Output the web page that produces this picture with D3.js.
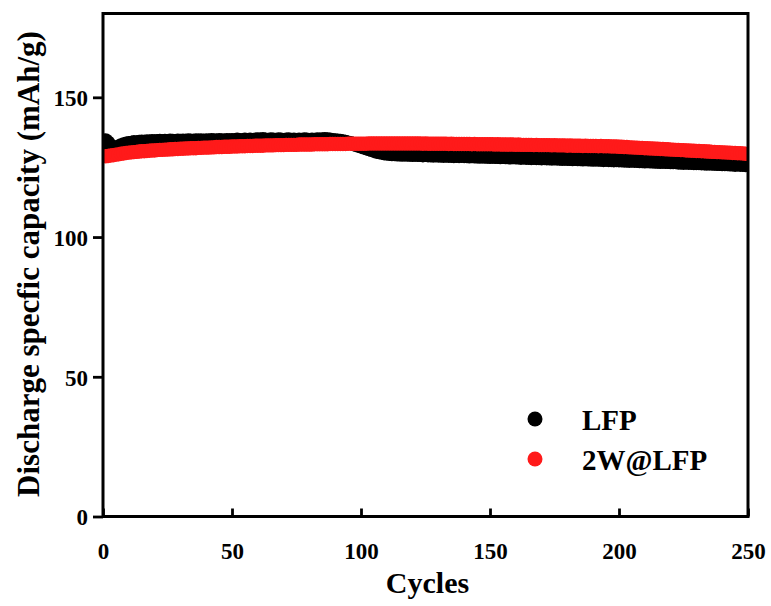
<!DOCTYPE html>
<html><head><meta charset="utf-8">
<script src="https://cdn.jsdelivr.net/npm/d3@7/dist/d3.min.js"></script>
<style>html,body{margin:0;padding:0;background:#fff;}svg{display:block;}</style>
</head><body>
<script>
const seriesNames = ["LFP", "2W@LFP"];
const seriesColors = ["#000000", "#ff1a1a"];
const xTicks = [0, 50, 100, 150, 200, 250];
const yTicks = [0, 50, 100, 150];
const xLabel = "Cycles";
const yLabel = "Discharge specfic capacity (mAh/g)";

const lfp = [
134.6,133.8,131.9,131.2,131.6,132.3,132.8,133.1,133.4,133.6,
133.7,133.9,133.8,134.0,134.1,134.0,134.2,134.1,134.3,134.2,
134.3,134.4,134.2,134.4,134.3,134.5,134.4,134.3,134.5,134.4,
134.5,134.4,134.6,134.5,134.4,134.6,134.5,134.6,134.4,134.6,
134.5,134.7,134.6,134.5,134.7,134.6,134.5,134.7,134.6,134.7,
134.6,134.8,134.7,134.6,134.8,134.7,134.8,134.6,134.8,134.9,
134.8,135.0,134.8,134.7,134.9,134.8,134.7,134.9,134.8,134.7,
134.8,134.9,134.7,134.8,134.6,134.8,134.7,134.9,134.8,134.7,
134.8,134.7,134.9,134.8,134.9,135.0,134.9,134.8,134.7,134.6,
134.5,134.4,134.2,134.0,133.8,133.6,133.3,133.0,132.7,132.4,
132.1,131.8,131.5,131.2,130.9,130.6,130.4,130.2,130.0,129.9,
129.8,129.7,129.7,129.6,129.6,129.5,129.6,129.5,129.5,129.4,
129.5,129.4,129.4,129.3,129.4,129.3,129.3,129.2,129.3,129.2,
129.2,129.1,129.2,129.1,129.1,129.0,129.1,129.0,129.1,129.0,
129.0,128.9,129.0,128.9,128.9,128.8,128.9,128.8,128.8,128.7,
128.8,128.7,128.7,128.6,128.7,128.6,128.6,128.5,128.6,128.5,
128.5,128.4,128.5,128.4,128.4,128.3,128.4,128.3,128.3,128.2,
128.3,128.2,128.2,128.1,128.2,128.1,128.1,128.0,128.1,128.0,
128.0,127.9,128.0,127.9,127.9,127.8,127.9,127.8,127.8,127.7,
127.8,127.7,127.7,127.6,127.7,127.6,127.6,127.5,127.6,127.5,
127.5,127.4,127.4,127.3,127.4,127.3,127.3,127.2,127.2,127.1,
127.2,127.1,127.1,127.0,127.0,126.9,127.0,126.9,126.9,126.8,
126.8,126.8,126.7,126.7,126.6,126.7,126.6,126.6,126.5,126.5,
126.5,126.4,126.4,126.3,126.4,126.3,126.3,126.2,126.2,126.1,
126.1,126.1,126.0,126.0,125.9,126.0,125.9,125.9,125.8,125.8
];
const w2lfp = [
128.9,129.0,129.2,129.3,129.5,129.6,129.8,129.9,130.1,130.2,
130.3,130.4,130.5,130.6,130.7,130.7,130.8,130.9,131.0,131.0,
131.1,131.2,131.2,131.3,131.3,131.4,131.4,131.5,131.5,131.6,
131.6,131.7,131.7,131.8,131.8,131.8,131.9,131.9,132.0,132.0,
132.0,132.1,132.1,132.2,132.2,132.2,132.3,132.3,132.3,132.4,
132.4,132.4,132.5,132.5,132.5,132.6,132.6,132.6,132.7,132.7,
132.7,132.7,132.8,132.8,132.8,132.8,132.9,132.9,132.9,132.9,
133.0,133.0,133.0,133.0,133.0,133.1,133.1,133.1,133.1,133.1,
133.1,133.2,133.2,133.2,133.2,133.2,133.2,133.3,133.3,133.3,
133.3,133.3,133.3,133.3,133.4,133.4,133.4,133.4,133.4,133.4,
133.4,133.4,133.5,133.5,133.5,133.5,133.5,133.5,133.5,133.5,
133.5,133.5,133.5,133.5,133.5,133.5,133.5,133.5,133.5,133.5,
133.5,133.5,133.5,133.4,133.5,133.4,133.4,133.4,133.4,133.4,
133.4,133.4,133.4,133.3,133.4,133.3,133.3,133.3,133.3,133.3,
133.3,133.3,133.2,133.3,133.2,133.2,133.2,133.2,133.2,133.2,
133.2,133.1,133.2,133.1,133.1,133.1,133.1,133.1,133.1,133.0,
133.1,133.0,133.0,133.0,133.0,133.0,132.9,133.0,132.9,132.9,
132.9,132.9,132.9,132.8,132.9,132.8,132.8,132.8,132.8,132.7,
132.8,132.7,132.7,132.7,132.7,132.6,132.7,132.6,132.6,132.6,
132.6,132.5,132.6,132.5,132.5,132.5,132.4,132.4,132.4,132.3,
132.3,132.2,132.2,132.1,132.1,132.0,132.0,131.9,131.9,131.8,
131.8,131.7,131.7,131.6,131.6,131.5,131.5,131.4,131.4,131.3,
131.3,131.2,131.2,131.1,131.1,131.0,131.0,130.9,130.9,130.8,
130.8,130.7,130.7,130.6,130.6,130.5,130.5,130.4,130.4,130.3,
130.3,130.2,130.2,130.1,130.1,130.0,130.0,129.9,129.8,129.7
];
const seriesValues = [lfp, w2lfp];

const W = 771, H = 606;
const mLeft = 103, mRight = 748, mTop = 13.5, mBottom = 516.5;
const font = "'Liberation Serif','Times New Roman',serif";

const svg = d3.select("body").append("svg").attr("width", W).attr("height", H)
  .attr("font-family", font);
const x = d3.scaleLinear().domain([0, 250]).range([mLeft, mRight]);
const y = d3.scaleLinear().domain([0, 180]).range([mBottom, mTop]);

// data
svg.append("defs").append("clipPath").attr("id", "c")
  .append("rect").attr("x", mLeft).attr("y", mTop).attr("width", mRight - mLeft).attr("height", mBottom - mTop);
const plot = svg.append("g").attr("clip-path", "url(#c)");
seriesValues.forEach((vals, si) => {
  plot.append("g").selectAll("circle").data(vals).join("circle")
    .attr("cx", (d, i) => x(i + 1))
    .attr("cy", d => y(d))
    .attr("r", 7.2)
    .attr("fill", seriesColors[si]);
});

// axes
const yAxis = d3.axisLeft(y).tickValues(yTicks).tickSize(10).tickPadding(5).tickFormat(d3.format("d"));
const xAxis = d3.axisBottom(x).tickValues(xTicks).tickSize(-8).tickPadding(26).tickFormat(d3.format("d"));
const gy = svg.append("g").attr("transform", `translate(${mLeft},0)`).call(yAxis);
const gx = svg.append("g").attr("transform", `translate(0,${mBottom})`).call(xAxis);
[gx, gy].forEach(g => {
  g.attr("font-family", font).attr("font-size", 23).attr("font-weight", "bold");
  g.select(".domain").remove();
  g.selectAll(".tick line").attr("stroke", "#000").attr("stroke-width", 2.8);
  g.selectAll(".tick text").attr("fill", "#000").style("font-family", font)
    .style("font-weight", "bold").style("font-size", "23px");
});
gy.selectAll(".tick text").attr("dy", "0.36em");
// frame
svg.append("rect").attr("x", mLeft).attr("y", mTop).attr("width", mRight - mLeft).attr("height", mBottom - mTop)
  .attr("fill", "none").attr("stroke", "#000").attr("stroke-width", 3);

// axis titles
svg.append("text").attr("x", (mLeft + mRight) / 2 + 2).attr("y", 593).attr("text-anchor", "middle")
  .style("font-family", font).style("font-weight", "bold").style("font-size", "30px").text(xLabel);
svg.append("text").attr("transform", "translate(39,264) rotate(-90)").attr("text-anchor", "middle")
  .style("font-family", font).style("font-weight", "bold").style("font-size", "31px").text(yLabel);

// legend
const leg = svg.append("g");
seriesNames.forEach((n, i) => {
  const cy = 419 + i * 40;
  leg.append("circle").attr("cx", 535).attr("cy", cy).attr("r", 7.5).attr("fill", seriesColors[i]);
  leg.append("text").attr("x", 582).attr("y", cy + 11).style("font-family", font)
    .style("font-weight", "bold").style("font-size", "29px").text(n);
});
</script>
</body></html>
